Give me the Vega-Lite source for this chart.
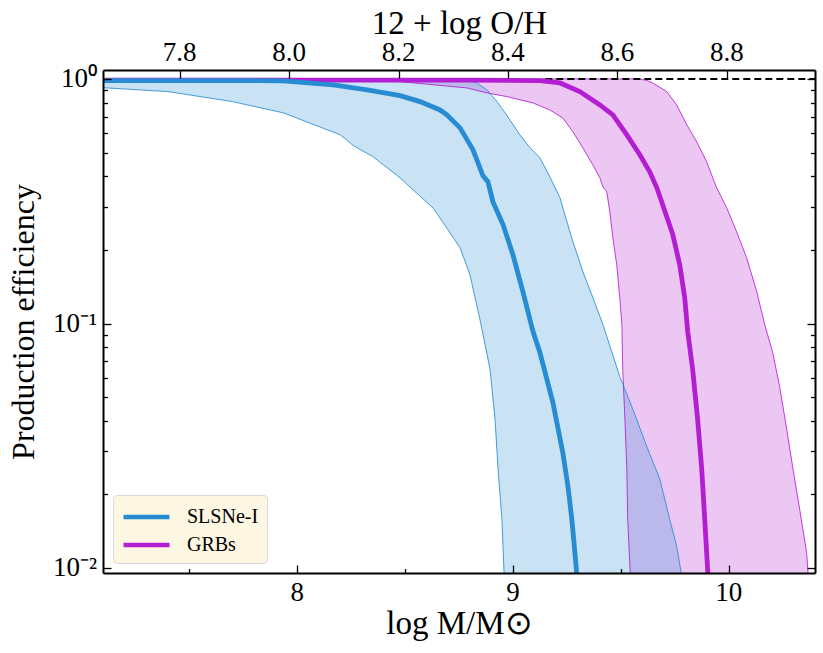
{
  "$schema": "https://vega.github.io/schema/vega-lite/v6.json",
  "width": 712,
  "height": 503,
  "autosize": {"type": "none"},
  "padding": {"left": 103, "top": 70, "right": 8, "bottom": 80},
  "config": {
    "view": {"stroke": null},
    "legend": {
      "orient": "bottom-left",
      "offset": 10,
      "fillColor": "#fdf6e3",
      "strokeColor": "#d9d9d9",
      "cornerRadius": 4,
      "padding": 8,
      "symbolType": "M-1,0H3",
      "symbolSize": 529,
      "symbolStrokeWidth": 4.5,
      "labelFont": "Liberation Serif",
      "labelFontSize": 20,
      "labelColor": "black",
      "labelOffset": 38,
      "rowPadding": 4,
      "title": null
    }
  },
  "datasets": {
    "blueBand": [
      {"M": 7.10, "lo": 0.921, "hi": 1.0},
      {"M": 7.40, "lo": 0.888, "hi": 1.0},
      {"M": 7.70, "lo": 0.808, "hi": 1.0},
      {"M": 7.935, "lo": 0.727, "hi": 1.0},
      {"M": 8.20, "lo": 0.591, "hi": 1.0},
      {"M": 8.26, "lo": 0.534, "hi": 1.0},
      {"M": 8.35, "lo": 0.482, "hi": 1.0},
      {"M": 8.477, "lo": 0.394, "hi": 1.0},
      {"M": 8.537, "lo": 0.352, "hi": 1.0},
      {"M": 8.63, "lo": 0.297, "hi": 1.0},
      {"M": 8.662, "lo": 0.270, "hi": 0.998},
      {"M": 8.755, "lo": 0.204, "hi": 0.992},
      {"M": 8.787, "lo": 0.171, "hi": 0.99},
      {"M": 8.801, "lo": 0.158, "hi": 0.982},
      {"M": 8.833, "lo": 0.118, "hi": 0.963},
      {"M": 8.847, "lo": 0.104, "hi": 0.944},
      {"M": 8.880, "lo": 0.0748, "hi": 0.902},
      {"M": 8.894, "lo": 0.0649, "hi": 0.873},
      {"M": 8.917, "lo": 0.0406, "hi": 0.826},
      {"M": 8.926, "lo": 0.030, "hi": 0.808},
      {"M": 8.931, "lo": 0.0254, "hi": 0.797},
      {"M": 8.949, "lo": 0.0158, "hi": 0.757},
      {"M": 8.960, "lo": 0.0090, "hi": 0.735},
      {"M": 8.986, "lo": 0.001, "hi": 0.680},
      {"M": 9.032, "lo": 0.001, "hi": 0.591},
      {"M": 9.079, "lo": 0.001, "hi": 0.523},
      {"M": 9.125, "lo": 0.001, "hi": 0.476},
      {"M": 9.171, "lo": 0.001, "hi": 0.398},
      {"M": 9.218, "lo": 0.001, "hi": 0.327},
      {"M": 9.25, "lo": 0.001, "hi": 0.261},
      {"M": 9.278, "lo": 0.001, "hi": 0.216},
      {"M": 9.324, "lo": 0.001, "hi": 0.163},
      {"M": 9.370, "lo": 0.001, "hi": 0.128},
      {"M": 9.417, "lo": 0.001, "hi": 0.0991},
      {"M": 9.495, "lo": 0.001, "hi": 0.0608},
      {"M": 9.556, "lo": 0.001, "hi": 0.0446},
      {"M": 9.620, "lo": 0.001, "hi": 0.0315},
      {"M": 9.681, "lo": 0.001, "hi": 0.0231},
      {"M": 9.727, "lo": 0.001, "hi": 0.0158},
      {"M": 9.759, "lo": 0.001, "hi": 0.0123},
      {"M": 9.785, "lo": 0.001, "hi": 0.0090}
    ],
    "purpleBand": [
      {"M": 7.10, "lo": 0.99, "hi": 1.0},
      {"M": 7.968, "lo": 0.99, "hi": 1.0},
      {"M": 8.477, "lo": 0.975, "hi": 1.0},
      {"M": 8.787, "lo": 0.919, "hi": 1.0},
      {"M": 8.880, "lo": 0.877, "hi": 1.0},
      {"M": 8.972, "lo": 0.847, "hi": 1.0},
      {"M": 9.093, "lo": 0.798, "hi": 1.0},
      {"M": 9.171, "lo": 0.747, "hi": 1.0},
      {"M": 9.231, "lo": 0.693, "hi": 1.0},
      {"M": 9.278, "lo": 0.608, "hi": 1.0},
      {"M": 9.324, "lo": 0.523, "hi": 1.0},
      {"M": 9.370, "lo": 0.446, "hi": 1.0},
      {"M": 9.403, "lo": 0.394, "hi": 1.0},
      {"M": 9.417, "lo": 0.362, "hi": 1.0},
      {"M": 9.435, "lo": 0.346, "hi": 1.0},
      {"M": 9.449, "lo": 0.286, "hi": 1.0},
      {"M": 9.463, "lo": 0.224, "hi": 1.0},
      {"M": 9.481, "lo": 0.174, "hi": 1.0},
      {"M": 9.495, "lo": 0.128, "hi": 1.0},
      {"M": 9.505, "lo": 0.0991, "hi": 1.0},
      {"M": 9.509, "lo": 0.0649, "hi": 1.0},
      {"M": 9.519, "lo": 0.0406, "hi": 1.0},
      {"M": 9.528, "lo": 0.0254, "hi": 1.0},
      {"M": 9.532, "lo": 0.0158, "hi": 1.0},
      {"M": 9.545, "lo": 0.0090, "hi": 1.0},
      {"M": 9.588, "lo": 0.001, "hi": 1.0},
      {"M": 9.620, "lo": 0.001, "hi": 0.985},
      {"M": 9.648, "lo": 0.001, "hi": 0.963},
      {"M": 9.713, "lo": 0.001, "hi": 0.888},
      {"M": 9.759, "lo": 0.001, "hi": 0.783},
      {"M": 9.806, "lo": 0.001, "hi": 0.649},
      {"M": 9.852, "lo": 0.001, "hi": 0.553},
      {"M": 9.898, "lo": 0.001, "hi": 0.458},
      {"M": 9.944, "lo": 0.001, "hi": 0.359},
      {"M": 9.991, "lo": 0.001, "hi": 0.297},
      {"M": 10.037, "lo": 0.001, "hi": 0.237},
      {"M": 10.083, "lo": 0.001, "hi": 0.186},
      {"M": 10.130, "lo": 0.001, "hi": 0.135},
      {"M": 10.167, "lo": 0.001, "hi": 0.0991},
      {"M": 10.204, "lo": 0.001, "hi": 0.0761},
      {"M": 10.236, "lo": 0.001, "hi": 0.0553},
      {"M": 10.269, "lo": 0.001, "hi": 0.0369},
      {"M": 10.296, "lo": 0.001, "hi": 0.0261},
      {"M": 10.329, "lo": 0.001, "hi": 0.0174},
      {"M": 10.361, "lo": 0.001, "hi": 0.0116},
      {"M": 10.370, "lo": 0.001, "hi": 0.0090}
    ],
    "medians": [
      {"series": "SLSNe-I", "M": 7.10, "y": 0.985},
      {"series": "SLSNe-I", "M": 7.78, "y": 0.985},
      {"series": "SLSNe-I", "M": 7.935, "y": 0.982},
      {"series": "SLSNe-I", "M": 8.167, "y": 0.945},
      {"series": "SLSNe-I", "M": 8.324, "y": 0.902},
      {"series": "SLSNe-I", "M": 8.477, "y": 0.855},
      {"series": "SLSNe-I", "M": 8.569, "y": 0.808},
      {"series": "SLSNe-I", "M": 8.662, "y": 0.747},
      {"series": "SLSNe-I", "M": 8.694, "y": 0.713},
      {"series": "SLSNe-I", "M": 8.755, "y": 0.631},
      {"series": "SLSNe-I", "M": 8.815, "y": 0.513},
      {"series": "SLSNe-I", "M": 8.861, "y": 0.402},
      {"series": "SLSNe-I", "M": 8.884, "y": 0.380},
      {"series": "SLSNe-I", "M": 8.907, "y": 0.315},
      {"series": "SLSNe-I", "M": 8.954, "y": 0.254},
      {"series": "SLSNe-I", "M": 9.0, "y": 0.191},
      {"series": "SLSNe-I", "M": 9.046, "y": 0.135},
      {"series": "SLSNe-I", "M": 9.093, "y": 0.0928},
      {"series": "SLSNe-I", "M": 9.125, "y": 0.0761},
      {"series": "SLSNe-I", "M": 9.185, "y": 0.0476},
      {"series": "SLSNe-I", "M": 9.231, "y": 0.0297},
      {"series": "SLSNe-I", "M": 9.255, "y": 0.0216},
      {"series": "SLSNe-I", "M": 9.273, "y": 0.0158},
      {"series": "SLSNe-I", "M": 9.287, "y": 0.0116},
      {"series": "SLSNe-I", "M": 9.298, "y": 0.0090},
      {"series": "GRBs", "M": 7.10, "y": 0.99},
      {"series": "GRBs", "M": 8.801, "y": 0.99},
      {"series": "GRBs", "M": 9.125, "y": 0.985},
      {"series": "GRBs", "M": 9.218, "y": 0.963},
      {"series": "GRBs", "M": 9.31, "y": 0.888},
      {"series": "GRBs", "M": 9.403, "y": 0.783},
      {"series": "GRBs", "M": 9.463, "y": 0.713},
      {"series": "GRBs", "M": 9.528, "y": 0.591},
      {"series": "GRBs", "M": 9.588, "y": 0.49},
      {"series": "GRBs", "M": 9.634, "y": 0.417},
      {"series": "GRBs", "M": 9.667, "y": 0.359},
      {"series": "GRBs", "M": 9.694, "y": 0.306},
      {"series": "GRBs", "M": 9.741, "y": 0.231},
      {"series": "GRBs", "M": 9.773, "y": 0.174},
      {"series": "GRBs", "M": 9.796, "y": 0.128},
      {"series": "GRBs", "M": 9.810, "y": 0.0928},
      {"series": "GRBs", "M": 9.833, "y": 0.0649},
      {"series": "GRBs", "M": 9.856, "y": 0.0406},
      {"series": "GRBs", "M": 9.875, "y": 0.0254},
      {"series": "GRBs", "M": 9.889, "y": 0.0158},
      {"series": "GRBs", "M": 9.905, "y": 0.0090}
    ],
    "ruleData": [{"M1": 9.15, "M2": 10.4, "val": 1.0}],
    "massTicks": [{"M": 8, "t": "8"}, {"M": 9, "t": "9"}, {"M": 10, "t": "10"}],
    "ohTicks": [{"oh": 7.8, "t": "7.8"}, {"oh": 8.0, "t": "8.0"}, {"oh": 8.2, "t": "8.2"}, {"oh": 8.4, "t": "8.4"}, {"oh": 8.6, "t": "8.6"}, {"oh": 8.8, "t": "8.8"}],
    "effTicks": [{"v": 1, "t": "10⁰"}, {"v": 0.1, "t": "10⁻¹"}, {"v": 0.01, "t": "10⁻²"}]
  },
  "resolve": {"scale": {"x": "independent"}, "axis": {"x": "independent", "y": "independent"}},
  "layer": [
    {
      "data": {"name": "purpleBand"},
      "mark": {"type": "area", "color": "#b41ed2", "opacity": 0.25, "clip": true},
      "encoding": {
        "x": {"field": "M", "type": "quantitative",
          "scale": {"domain": [7.1, 10.4], "nice": false, "zero": false},
          "axis": {"orient": "bottom", "values": [8, 9, 10], "grid": false, "zindex": 1, "labels": false,
            "tickSize": -8, "tickWidth": 1.3, "tickColor": "black", "domainColor": "black", "domainWidth": 2,
            "title": "log M/M⊙", "titleFont": "Liberation Serif", "titleFontSize": 33, "titleFontWeight": "normal", "titleColor": "black",
            "titleY": 60, "titleBaseline": "alphabetic"}},
        "y": {"field": "lo", "type": "quantitative",
          "scale": {"type": "log", "domain": [0.00955, 1.088], "nice": false},
          "axis": {"orient": "left", "values": [0.01, 0.1, 1], "grid": false, "zindex": 1, "labels": false,
            "tickSize": -8, "tickWidth": 1.3, "tickColor": "black", "domainColor": "black", "domainWidth": 2,
            "title": "Production efficiency", "titleFont": "Liberation Serif", "titleFontSize": 32, "titleFontWeight": "normal", "titleColor": "black",
            "titleX": -70, "titleBaseline": "alphabetic"}},
        "y2": {"field": "hi"}
      }
    },
    {
      "data": {"name": "blueBand"},
      "mark": {"type": "area", "color": "#288cd2", "opacity": 0.25, "clip": true},
      "encoding": {
        "x": {"field": "M", "type": "quantitative",
          "scale": {"domain": [7.1, 10.4], "nice": false, "zero": false},
          "axis": {"orient": "bottom", "values": [7.5, 8.5, 9.5], "grid": false, "zindex": 1,
            "tickSize": -4.5, "tickWidth": 1.3, "tickColor": "black", "labels": false, "domain": false, "title": null}},
        "y": {"field": "lo", "type": "quantitative",
          "scale": {"type": "log", "domain": [0.00955, 1.088], "nice": false},
          "axis": {"orient": "left", "values": [0.02, 0.03, 0.04, 0.05, 0.06, 0.07, 0.08, 0.09, 0.2, 0.3, 0.4, 0.5, 0.6, 0.7, 0.8, 0.9],
            "grid": false, "zindex": 1, "tickSize": -4.5, "tickWidth": 1.3, "tickColor": "black", "labels": false, "domain": false, "title": null}},
        "y2": {"field": "hi"}
      }
    },
    {
      "data": {"name": "purpleBand"},
      "mark": {"type": "line", "color": "#b41ed2", "strokeWidth": 1, "opacity": 0.85, "clip": true},
      "encoding": {
        "x": {"field": "M", "type": "quantitative", "scale": {"domain": [7.1, 10.4], "nice": false, "zero": false}, "axis": null},
        "y": {"field": "lo", "type": "quantitative",
          "scale": {"type": "log", "domain": [0.00955, 1.088], "nice": false},
          "axis": {"orient": "right", "values": [0.01, 0.1, 1], "grid": false, "zindex": 1,
            "tickSize": -8, "tickWidth": 1.3, "tickColor": "black", "domainColor": "black", "domainWidth": 2, "labels": false, "title": null}}
      }
    },
    {
      "data": {"name": "purpleBand"},
      "mark": {"type": "line", "color": "#b41ed2", "strokeWidth": 1, "opacity": 0.85, "clip": true},
      "encoding": {
        "x": {"field": "M", "type": "quantitative", "scale": {"domain": [7.1, 10.4], "nice": false, "zero": false}, "axis": null},
        "y": {"field": "hi", "type": "quantitative",
          "scale": {"type": "log", "domain": [0.00955, 1.088], "nice": false},
          "axis": {"orient": "right", "values": [0.02, 0.03, 0.04, 0.05, 0.06, 0.07, 0.08, 0.09, 0.2, 0.3, 0.4, 0.5, 0.6, 0.7, 0.8, 0.9],
            "grid": false, "zindex": 1, "tickSize": -4.5, "tickWidth": 1.3, "tickColor": "black", "labels": false, "domain": false, "title": null}}
      }
    },
    {
      "data": {"name": "blueBand"},
      "mark": {"type": "line", "color": "#288cd2", "strokeWidth": 1, "opacity": 0.85, "clip": true},
      "encoding": {
        "x": {"field": "M", "type": "quantitative", "scale": {"domain": [7.1, 10.4], "nice": false, "zero": false}, "axis": null},
        "y": {"field": "lo", "type": "quantitative", "scale": {"type": "log", "domain": [0.00955, 1.088], "nice": false}, "axis": null}
      }
    },
    {
      "data": {"name": "blueBand"},
      "mark": {"type": "line", "color": "#288cd2", "strokeWidth": 1, "opacity": 0.85, "clip": true},
      "encoding": {
        "x": {"field": "M", "type": "quantitative", "scale": {"domain": [7.1, 10.4], "nice": false, "zero": false}, "axis": null},
        "y": {"field": "hi", "type": "quantitative", "scale": {"type": "log", "domain": [0.00955, 1.088], "nice": false}, "axis": null}
      }
    },
    {
      "data": {"name": "ruleData"},
      "mark": {"type": "rule", "color": "black", "strokeWidth": 2, "strokeDash": [7, 4], "clip": true},
      "encoding": {
        "x": {"field": "M1", "type": "quantitative", "scale": {"domain": [7.1, 10.4], "nice": false, "zero": false}, "axis": null},
        "x2": {"field": "M2"},
        "y": {"field": "val", "type": "quantitative", "scale": {"type": "log", "domain": [0.00955, 1.088], "nice": false}, "axis": null}
      }
    },
    {
      "data": {"name": "medians"},
      "transform": [{"filter": "datum.series == 'GRBs'"}],
      "mark": {"type": "line", "strokeWidth": 4.8, "clip": true},
      "encoding": {
        "x": {"field": "M", "type": "quantitative", "scale": {"domain": [7.1, 10.4], "nice": false, "zero": false}, "axis": null},
        "y": {"field": "y", "type": "quantitative", "scale": {"type": "log", "domain": [0.00955, 1.088], "nice": false}, "axis": null},
        "color": {"field": "series", "type": "nominal",
          "scale": {"domain": ["SLSNe-I", "GRBs"], "range": ["#288cd2", "#b41ed2"]},
          "legend": {"labelFont": "Liberation Serif", "labelFontSize": 20}}
      }
    },
    {
      "data": {"name": "medians"},
      "transform": [{"filter": "datum.series == 'SLSNe-I'"}],
      "mark": {"type": "line", "strokeWidth": 4.8, "clip": true},
      "encoding": {
        "x": {"field": "M", "type": "quantitative", "scale": {"domain": [7.1, 10.4], "nice": false, "zero": false}, "axis": null},
        "y": {"field": "y", "type": "quantitative", "scale": {"type": "log", "domain": [0.00955, 1.088], "nice": false}, "axis": null},
        "color": {"field": "series", "type": "nominal",
          "scale": {"domain": ["SLSNe-I", "GRBs"], "range": ["#288cd2", "#b41ed2"]},
          "legend": {"labelFont": "Liberation Serif", "labelFontSize": 20}}
      }
    },
    {
      "data": {"name": "massTicks"},
      "mark": {"type": "text", "font": "Liberation Serif", "fontSize": 27, "color": "black", "align": "center", "baseline": "alphabetic", "dy": 27.7},
      "encoding": {
        "x": {"field": "M", "type": "quantitative", "scale": {"domain": [7.1, 10.4], "nice": false, "zero": false}, "axis": null},
        "y": {"datum": 0.00955, "type": "quantitative", "scale": {"type": "log", "domain": [0.00955, 1.088], "nice": false}, "axis": null},
        "text": {"field": "t"}
      }
    },
    {
      "data": {"name": "effTicks"},
      "mark": {"type": "text", "font": "Liberation Serif", "fontSize": 27, "color": "black", "align": "right", "baseline": "middle", "dx": -6},
      "encoding": {
        "x": {"datum": 7.1, "type": "quantitative", "scale": {"domain": [7.1, 10.4], "nice": false, "zero": false}, "axis": null},
        "y": {"field": "v", "type": "quantitative", "scale": {"type": "log", "domain": [0.00955, 1.088], "nice": false}, "axis": null},
        "text": {"field": "t"}
      }
    },
    {
      "data": {"name": "ohTicks"},
      "mark": {"type": "text", "font": "Liberation Serif", "fontSize": 27, "color": "black", "align": "center", "baseline": "alphabetic", "dy": -9.3},
      "encoding": {
        "x": {"field": "oh", "type": "quantitative",
          "scale": {"domain": [7.66, 8.961], "nice": false, "zero": false},
          "axis": {"orient": "top", "values": [7.8, 8.0, 8.2, 8.4, 8.6, 8.8], "grid": false, "zindex": 1, "labels": false,
            "tickSize": -8, "tickWidth": 1.3, "tickColor": "black", "domainColor": "black", "domainWidth": 2,
            "title": "12 + log O/H", "titleFont": "Liberation Serif", "titleFontSize": 33, "titleFontWeight": "normal", "titleColor": "black",
            "titleY": -37, "titleBaseline": "alphabetic"}},
        "y": {"datum": 1.088, "type": "quantitative", "scale": {"type": "log", "domain": [0.00955, 1.088], "nice": false}, "axis": null},
        "text": {"field": "t"}
      }
    }
  ]
}
